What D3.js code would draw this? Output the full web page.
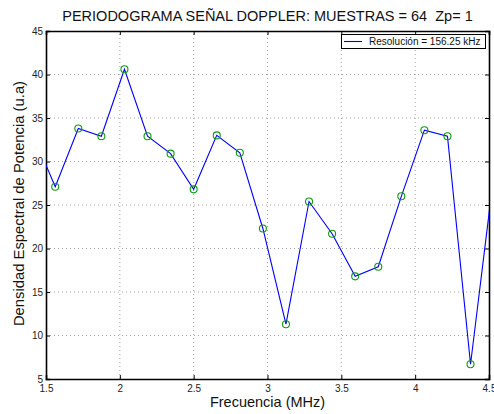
<!DOCTYPE html>
<html>
<head>
<meta charset="utf-8">
<script src="https://cdn.jsdelivr.net/npm/d3@7"></script>
<style>
  html, body { margin: 0; padding: 0; background: #fff; }
  svg { display: block; font-family: "Liberation Sans", Arial, sans-serif; }
  text { white-space: pre; }
</style>
</head>
<body>
<svg id="chart" width="494" height="414"></svg>
<script>
// Periodogram bins (MHz) spaced by the 156.25 kHz resolution
const freqs = [1.40625, 1.5625, 1.71875, 1.875, 2.03125, 2.1875, 2.34375, 2.5,
  2.65625, 2.8125, 2.96875, 3.125, 3.28125, 3.4375, 3.59375, 3.75, 3.90625,
  4.0625, 4.21875, 4.375, 4.53125];
// Power spectral density (u.a) per bin
const psd = [33.3, 27.1, 33.8, 32.9, 40.6, 32.9, 30.9, 26.8,
  33.0, 31.0, 22.3, 11.3, 25.4, 21.7, 16.8, 17.9, 26.0,
  33.6, 32.9, 6.7, 28.3];
const xTicks = [1.5, 2, 2.5, 3, 3.5, 4, 4.5];
const yTicks = [5, 10, 15, 20, 25, 30, 35, 40, 45];
const legendLabel = "Resolución = 156.25 kHz";
const titleText = "PERIODOGRAMA SEÑAL DOPPLER: MUESTRAS = 64  Zp= 1";
const xLabel = "Frecuencia (MHz)";
const yLabel = "Densidad Espectral de Potencia (u.a)";

const svg = d3.select("#chart");
const m = { left: 46, right: 5, top: 31, bottom: 35 };
const W = 494, H = 414;
const x = d3.scaleLinear().domain([1.5, 4.5]).range([m.left, W - m.right]);
const y = d3.scaleLinear().domain([5, 45]).range([H - m.bottom, m.top]);

svg.append("defs").append("clipPath").attr("id", "plotclip")
  .append("rect")
  .attr("x", x(1.5)).attr("y", y(45))
  .attr("width", x(4.5) - x(1.5)).attr("height", y(5) - y(45));

// dotted grid
const grid = svg.append("g").attr("stroke", "#8a8a8a").attr("stroke-width", 0.8)
  .attr("stroke-dasharray", "1,3");
grid.selectAll("line.gx").data(xTicks.slice(1, -1)).join("line")
  .attr("x1", d => x(d)).attr("x2", d => x(d))
  .attr("y1", y(5)).attr("y2", y(45));
grid.selectAll("line.gy").data(yTicks.slice(1, -1)).join("line")
  .attr("y1", d => y(d)).attr("y2", d => y(d))
  .attr("x1", x(1.5)).attr("x2", x(4.5));

// axes with inward ticks
const xAxis = svg.append("g").attr("transform", `translate(0,${y(5)})`)
  .call(d3.axisBottom(x).tickValues(xTicks).tickSize(-4).tickPadding(8)
    .tickFormat(d3.format("")));
const yAxis = svg.append("g").attr("transform", `translate(${x(1.5)},0)`)
  .call(d3.axisLeft(y).tickValues(yTicks).tickSize(-4).tickPadding(3));
const xTop = svg.append("g").attr("transform", `translate(0,${y(45)})`)
  .call(d3.axisTop(x).tickValues(xTicks).tickSize(-4).tickFormat(""));
const yRight = svg.append("g").attr("transform", `translate(${x(4.5)},0)`)
  .call(d3.axisRight(y).tickValues(yTicks).tickSize(-4).tickFormat(""));
[xAxis, yAxis, xTop, yRight].forEach(g => {
  g.select(".domain").attr("stroke", "#000").attr("stroke-width", 1.6);
  g.selectAll(".tick line").attr("stroke", "#000").attr("stroke-width", 1);
  g.selectAll(".tick text").attr("fill", "#222").attr("font-size", 10)
    .attr("font-family", "Liberation Sans, Arial, sans-serif");
});
xAxis.selectAll(".tick text").attr("dy", "0.5em");

// series
const pts = freqs.map((f, i) => ({ f, v: psd[i] }));
const plot = svg.append("g").attr("clip-path", "url(#plotclip)");
plot.append("path").datum(pts)
  .attr("fill", "none").attr("stroke", "#0000ff").attr("stroke-width", 1.1)
  .attr("d", d3.line().x(d => x(d.f)).y(d => y(d.v)));
plot.selectAll("circle").data(pts.filter(d => d.f >= 1.5 && d.f <= 4.5)).join("circle")
  .attr("cx", d => x(d.f)).attr("cy", d => y(d.v)).attr("r", 3.5)
  .attr("fill", "none").attr("stroke", "#109a10").attr("stroke-width", 1.1);

// legend
const lg = svg.append("g");
lg.append("rect").attr("x", 341.5).attr("y", 34.5).attr("width", 144).attr("height", 14)
  .attr("fill", "#fff").attr("stroke", "#000").attr("stroke-width", 1);
lg.append("line").attr("x1", 344).attr("x2", 362).attr("y1", 41.5).attr("y2", 41.5)
  .attr("stroke", "#0000ff").attr("stroke-width", 1.1);
lg.append("text").attr("x", 369).attr("y", 45).attr("font-size", 10)
  .attr("fill", "#111").text(legendLabel);

// title and axis labels
svg.append("text").attr("x", (x(1.5) + x(4.5)) / 2).attr("y", 21)
  .attr("text-anchor", "middle").attr("font-size", 14.5).attr("fill", "#111")
  .text(titleText);
svg.append("text").attr("x", (x(1.5) + x(4.5)) / 2).attr("y", 407)
  .attr("text-anchor", "middle").attr("font-size", 14.5).attr("fill", "#111")
  .text(xLabel);
svg.append("text").attr("transform", `translate(24,203.5) rotate(-90)`)
  .attr("text-anchor", "middle").attr("font-size", 14.8).attr("fill", "#111")
  .text(yLabel);
</script>
</body>
</html>
